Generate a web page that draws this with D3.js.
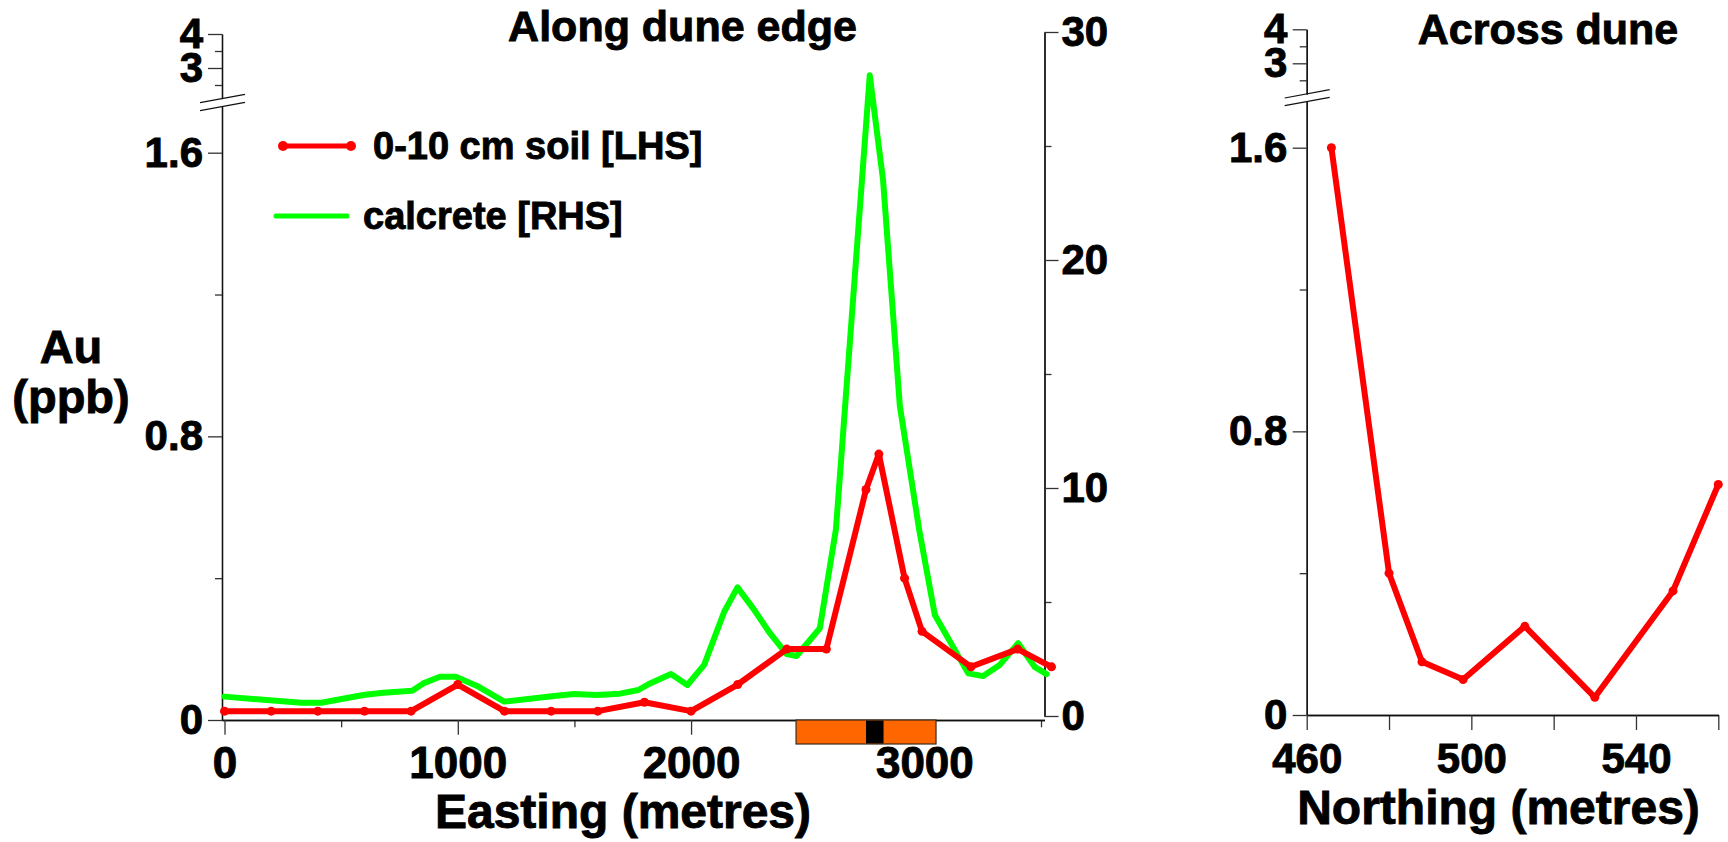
<!DOCTYPE html>
<html>
<head>
<meta charset="utf-8">
<title>Au along and across dune</title>
<script src="https://cdn.jsdelivr.net/npm/d3@7/dist/d3.min.js"></script>
<style>
  html, body { margin: 0; padding: 0; background: #fff; }
  svg { display: block; }
  text { stroke: #000; stroke-width: 0.9px; paint-order: stroke; }
</style>
</head>
<body>
<svg id="chart" width="1728" height="842"></svg>
<script>
// ---- Along dune edge: 0-10 cm soil (LHS, ppb) ----
const soilEasting = [0, 200, 400, 600, 800, 1000, 1200, 1400, 1600, 1800, 2000, 2200, 2410, 2580, 2750, 2805, 2915, 2990, 3200, 3400, 3545];
const soilAu      = [0.025, 0.025, 0.025, 0.025, 0.025, 0.1, 0.025, 0.025, 0.025, 0.05, 0.025, 0.1, 0.2, 0.2, 0.65, 0.75, 0.4, 0.25, 0.15, 0.2, 0.15];

// ---- Along dune edge: calcrete (RHS, ppb) ----
const calcreteEasting = [0, 330, 415, 595, 680, 805, 852, 924, 991, 1088, 1199, 1413, 1499, 1595, 1695, 1774, 1824, 1914, 1984, 2056, 2142, 2199, 2266, 2338, 2409, 2452, 2552, 2621, 2766, 2823, 2895, 2978, 3045, 3188, 3252, 3323, 3402, 3474, 3524];
const calcreteAu      = [0.85, 0.58, 0.58, 0.92, 1.02, 1.11, 1.43, 1.72, 1.72, 1.29, 0.63, 0.88, 0.96, 0.92, 0.98, 1.14, 1.43, 1.84, 1.36, 2.24, 4.57, 5.64, 4.72, 3.63, 2.72, 2.63, 3.85, 8.19, 28.1, 23.5, 13.6, 8.16, 4.43, 1.87, 1.75, 2.24, 3.19, 2.14, 1.84];

// ---- Across dune: soil (ppb) ----
const acrossNorthing = [466, 480, 488, 498, 513, 530, 549, 560];
const acrossAu       = [1.6, 0.4, 0.15, 0.1, 0.25, 0.05, 0.35, 0.65];

// ---- Strip under the Easting axis ----
const zoneExtent = [2450, 3050];
const coreExtent = [2750, 2825];

// ---- Ticks ----
const eastingTicks  = [0, 1000, 2000, 3000];
const eastingMinor  = [500, 1500, 2500, 3500];
const auTicks       = [0, 0.8, 1.6];
const auMinor       = [0.4, 1.2];
const auUpperTicks  = [3, 4];
const auUpperMinor  = [2.5, 3.5];
const calcreteTicks = [0, 10, 20, 30];
const calcreteMinor = [5, 15, 25];
const northingTicks = [460, 500, 540];
const northingMinor = [480, 520, 560];

const RED = "#ff0000", GREEN = "#00ff00", ORANGE = "#ff6600";
const FONT = "'Liberation Sans', Arial, Helvetica, sans-serif";
const LINE_W = 6, DOT_R = 4.5;

const svg = d3.select("#chart")
  .attr("font-family", FONT)
  .attr("font-weight", "bold");

// ---------- scales ----------
// left panel
const xE   = d3.scaleLinear().domain([0, 3500]).range([224.5, 1041]);
const yL   = d3.scaleLinear().domain([0, 1.6]).range([720, 152.7]);
const yLup = d3.scaleLinear().domain([3, 4]).range([68, 34]);
const yR   = d3.scaleLinear().domain([0, 30]).range([716, 32]);
// right panel
const xN   = d3.scaleLinear().domain([460, 560]).range([1306.7, 1718.3]);
const yN   = d3.scaleLinear().domain([0, 1.6]).range([715, 147.7]);
const yNup = d3.scaleLinear().domain([3, 4]).range([63.3, 29.3]);

const BREAK_UP = 2.1, BREAK_LOW = 1.73;

// axis helper: minor ticks without labels, then labelled major ticks
function drawAxis(g, maker, scale, major, minor, majorSize, minorSize, pad, fontSize) {
  if (minor.length) {
    const gm = g.append("g").call(maker(scale).tickValues(minor).tickSize(minorSize).tickSizeOuter(0).tickFormat(""));
    styleAxis(gm, fontSize);
  }
  const ga = g.append("g").call(maker(scale).tickValues(major).tickSize(majorSize).tickSizeOuter(0)
    .tickPadding(pad).tickFormat(d => String(d)));
  styleAxis(ga, fontSize);
  return ga;
}
function styleAxis(g, fontSize) {
  g.attr("font-family", FONT).attr("font-size", fontSize).attr("font-weight", "bold");
  g.selectAll(".domain").attr("stroke", "#111").attr("stroke-width", 1.3);
  g.selectAll(".tick line").attr("stroke", "#333").attr("stroke-width", 1.3);
  g.selectAll(".tick text").attr("fill", "#000");
}
// two parallel slanted strokes marking the axis break
function breakMarks(g, ax, yTop, yBot) {
  const left = 22, right = 23, slope = 8.4 / 45;
  [yTop, yBot].forEach(y => {
    g.append("line")
      .attr("x1", ax - left).attr("y1", y + left * slope)
      .attr("x2", ax + right).attr("y2", y - right * slope)
      .attr("stroke", "#111").attr("stroke-width", 1.2);
  });
}

// ================= LEFT PANEL =================
const left = svg.append("g");
const axL = 222;

// lower LHS axis (extends up to the break)
const yLaxis = yL.copy().domain([0, BREAK_LOW]).range([yL(0), yL(BREAK_LOW)]);
drawAxis(left.append("g").attr("transform", `translate(${axL},0)`), d3.axisLeft, yLaxis,
  auTicks, auMinor, 14, 7, 5, 42);
// upper LHS segment
const yLupAxis = yLup.copy().domain([BREAK_UP, 4]).range([yLup(BREAK_UP), yLup(4)]);
drawAxis(left.append("g").attr("transform", `translate(${axL},0)`), d3.axisLeft, yLupAxis,
  auUpperTicks, auUpperMinor, 14, 7, 5, 42);
breakMarks(left, axL, yLup(BREAK_UP), yL(BREAK_LOW));

// RHS calcrete axis
const axR = 1044.5;
drawAxis(left.append("g").attr("transform", `translate(${axR},0)`), d3.axisRight, yR,
  calcreteTicks, calcreteMinor, 14, 7, 3, 42);

// Easting axis, running between the two vertical axes
const xEaxis = xE.copy().domain([xE.invert(axL), xE.invert(axR)]).range([axL, axR]);
drawAxis(left.append("g").attr("transform", `translate(0,${yL(0)})`), d3.axisBottom, xEaxis,
  eastingTicks, eastingMinor, 14.7, 7.3, 12.3, 44);

// zone strip under the axis
const stripTop = yL(0), stripH = 24;
left.append("rect")
  .attr("x", xE(zoneExtent[0])).attr("y", stripTop)
  .attr("width", xE(zoneExtent[1]) - xE(zoneExtent[0])).attr("height", stripH)
  .attr("fill", ORANGE).attr("stroke", "#3a2a1a").attr("stroke-width", 1.2);
left.append("rect")
  .attr("x", xE(coreExtent[0])).attr("y", stripTop + 0.6)
  .attr("width", xE(coreExtent[1]) - xE(coreExtent[0])).attr("height", stripH - 1.2)
  .attr("fill", "#000");

// calcrete line (RHS)
const calcrete = calcreteEasting.map((e, i) => [e, calcreteAu[i]]);
left.append("path")
  .datum(calcrete)
  .attr("fill", "none").attr("stroke", GREEN).attr("stroke-width", LINE_W)
  .attr("stroke-linejoin", "round").attr("stroke-linecap", "round")
  .attr("d", d3.line().x(d => xE(d[0])).y(d => yR(d[1])));

// soil line (LHS)
const soil = soilEasting.map((e, i) => [e, soilAu[i]]);
left.append("path")
  .datum(soil)
  .attr("fill", "none").attr("stroke", RED).attr("stroke-width", LINE_W)
  .attr("stroke-linejoin", "round").attr("stroke-linecap", "round")
  .attr("d", d3.line().x(d => xE(d[0])).y(d => yL(d[1])));
left.selectAll("circle.soil")
  .data(soil).join("circle").attr("class", "soil")
  .attr("cx", d => xE(d[0])).attr("cy", d => yL(d[1])).attr("r", DOT_R)
  .attr("fill", RED);

// legend
const leg = left.append("g").attr("font-size", 38);
leg.append("line").attr("x1", 283).attr("x2", 351).attr("y1", 146).attr("y2", 146)
  .attr("stroke", RED).attr("stroke-width", LINE_W - 1);
[283, 351].forEach(x => leg.append("circle").attr("cx", x).attr("cy", 146).attr("r", DOT_R + 0.5).attr("fill", RED));
leg.append("text").attr("x", 373).attr("y", 158.5).text("0-10 cm soil [LHS]");
leg.append("line").attr("x1", 276).attr("x2", 347).attr("y1", 216).attr("y2", 216)
  .attr("stroke", GREEN).attr("stroke-width", LINE_W - 1).attr("stroke-linecap", "round");
leg.append("text").attr("x", 363).attr("y", 228.5).text("calcrete [RHS]");

// titles
left.append("text").attr("x", 682.5).attr("y", 41).attr("text-anchor", "middle")
  .attr("font-size", 43).text("Along dune edge");
left.append("text").attr("x", 623).attr("y", 828).attr("text-anchor", "middle")
  .attr("font-size", 48).text("Easting (metres)");
const yTitle = left.append("text").attr("text-anchor", "middle").attr("font-size", 47);
yTitle.append("tspan").attr("x", 71).attr("y", 363).text("Au");
yTitle.append("tspan").attr("x", 71).attr("y", 413).text("(ppb)");

// ================= RIGHT PANEL =================
const right = svg.append("g");
const axN = xN(460);

const yNaxis = yN.copy().domain([0, BREAK_LOW]).range([yN(0), yN(BREAK_LOW)]);
drawAxis(right.append("g").attr("transform", `translate(${axN},0)`), d3.axisLeft, yNaxis,
  auTicks, auMinor, 14, 7, 5.4, 42);
const yNupAxis = yNup.copy().domain([BREAK_UP, 4]).range([yNup(BREAK_UP), yNup(4)]);
drawAxis(right.append("g").attr("transform", `translate(${axN},0)`), d3.axisLeft, yNupAxis,
  auUpperTicks, auUpperMinor, 14, 7, 5.4, 42);
breakMarks(right, axN, yNup(BREAK_UP), yN(BREAK_LOW));

drawAxis(right.append("g").attr("transform", `translate(0,${yN(0)})`), d3.axisBottom, xN,
  northingTicks, northingMinor, 15, 15, 13, 42);

const across = acrossNorthing.map((n, i) => [n, acrossAu[i]]);
right.append("path")
  .datum(across)
  .attr("fill", "none").attr("stroke", RED).attr("stroke-width", LINE_W)
  .attr("stroke-linejoin", "round").attr("stroke-linecap", "round")
  .attr("d", d3.line().x(d => xN(d[0])).y(d => yN(d[1])));
right.selectAll("circle.across")
  .data(across).join("circle").attr("class", "across")
  .attr("cx", d => xN(d[0])).attr("cy", d => yN(d[1])).attr("r", DOT_R)
  .attr("fill", RED);

right.append("text").attr("x", 1548).attr("y", 44).attr("text-anchor", "middle")
  .attr("font-size", 43).text("Across dune");
right.append("text").attr("x", 1498.5).attr("y", 824).attr("text-anchor", "middle")
  .attr("font-size", 48).text("Northing (metres)");
</script>
</body>
</html>
